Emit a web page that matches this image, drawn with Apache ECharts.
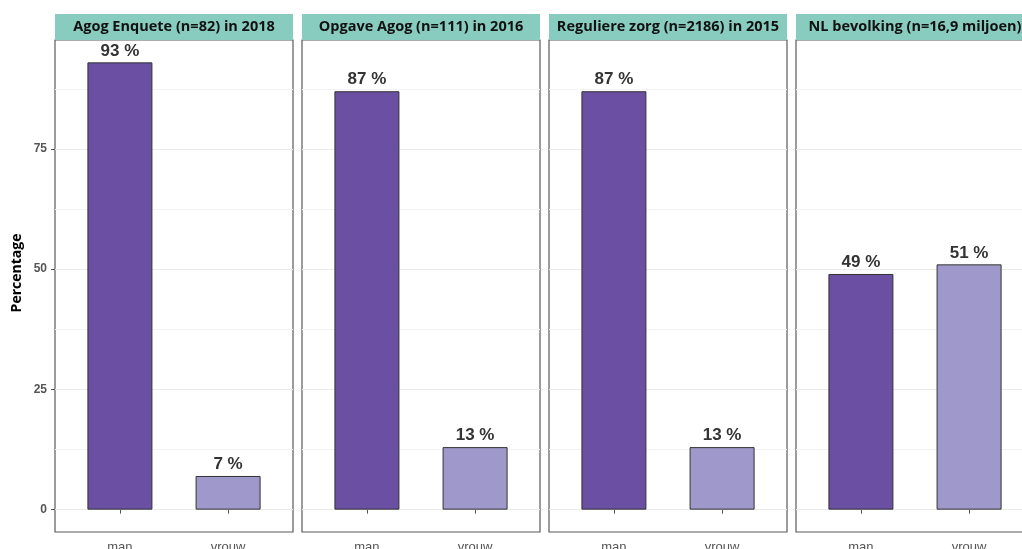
<!DOCTYPE html>
<html><head><meta charset="utf-8">
<script src="https://cdn.jsdelivr.net/npm/echarts@6/dist/echarts.min.js"></script>
<style>html,body{margin:0;padding:0;background:#fff}#c{width:1022px;height:549px}</style>
</head><body><div id="c"></div>
<script>
const categories = ['man', 'vrouw'];
const panelTitles = ['Agog Enquete (n=82) in 2018', 'Opgave Agog (n=111) in 2016', 'Reguliere zorg (n=2186) in 2015', 'NL bevolking (n=16,9 miljoen)'];
const manValues = [93, 87, 87, 49];
const vrouwValues = [7, 13, 13, 51];
const yTicks = [0, 25, 50, 75];
const yMinorLines = [12.5, 37.5, 62.5, 87.5];
const yTitle = 'Percentage';
const colors = ['#6a4fa3', '#9e99ca'];

const chart = echarts.init(document.getElementById('c'));
const P_LEFT = 55, P_STEP = 247, P_W = 238, P_TOP = 40, P_H = 492;
const grids = [], xAxes = [], yAxes = [], series = [], graphics = [];
panelTitles.forEach((t, i) => {
  const left = P_LEFT + i * P_STEP;
  grids.push({left: left, top: P_TOP, width: P_W, height: P_H, show: true, borderColor: '#5a5a5a', borderWidth: 1.2, backgroundColor: '#fff', outerBoundsMode: 'none', containLabel: false});
  xAxes.push({type: 'value', gridIndex: i, min: 0.4, max: 2.6,
    axisLine: {show: false}, splitLine: {show: false},
    axisTick: {show: true, customValues: [1, 2], length: 4, lineStyle: {color: '#555'}},
    axisLabel: {show: true, customValues: [1, 2], formatter: v => categories[Math.round(v) - 1], color: '#555', fontSize: 13, fontFamily: 'Liberation Sans', margin: 9}});
  yAxes.push({type: 'value', gridIndex: i, min: -4.65, max: 97.65,
    axisLine: {show: false}, splitLine: {show: false},
    axisTick: {show: i === 0, customValues: yTicks, length: 4, lineStyle: {color: '#555'}},
    axisLabel: {show: i === 0, customValues: yTicks, color: '#555', fontSize: 12, fontWeight: 'bold', fontFamily: 'Liberation Sans', margin: 8}});
  const lines = yTicks.map(v => ({yAxis: v, lineStyle: {color: '#ebebeb', width: 1, type: 'solid'}}))
    .concat(yMinorLines.map(v => ({yAxis: v, lineStyle: {color: '#f3f3f3', width: 1, type: 'solid'}})));
  series.push({type: 'bar', xAxisIndex: i, yAxisIndex: i, barWidth: 65, z: 3,
    data: [
      {value: [1, manValues[i]], itemStyle: {color: colors[0]}},
      {value: [2, vrouwValues[i]], itemStyle: {color: colors[1]}}
    ],
    itemStyle: {borderColor: '#333', borderWidth: 1},
    label: {show: true, position: 'top', distance: 3, formatter: p => p.value[1] + ' %', color: '#333', fontSize: 17, fontWeight: 'bold', fontFamily: 'Liberation Sans'},
    markLine: {silent: true, symbol: 'none', label: {show: false}, z: 1, lineStyle: {type: 'solid'}, data: lines}
  });
  graphics.push({type: 'rect', shape: {x: left, y: 14, width: P_W, height: 26}, style: {fill: '#88cbbf'}, z: 10});
  graphics.push({type: 'text', x: left + P_W / 2, y: 27, z: 11,
    style: {text: t, fill: '#111', font: 'bold 14.5px "Open Sans"', align: 'center', verticalAlign: 'middle'}});
});
graphics.push({type: 'text', x: 17, y: 273, rotation: Math.PI / 2, z: 11,
  style: {text: yTitle, fill: '#000', font: 'bold 14px "Open Sans"', align: 'center', verticalAlign: 'middle'}});
chart.setOption({animation: false, grid: grids, xAxis: xAxes, yAxis: yAxes, series: series, graphic: graphics});
</script></body></html>
